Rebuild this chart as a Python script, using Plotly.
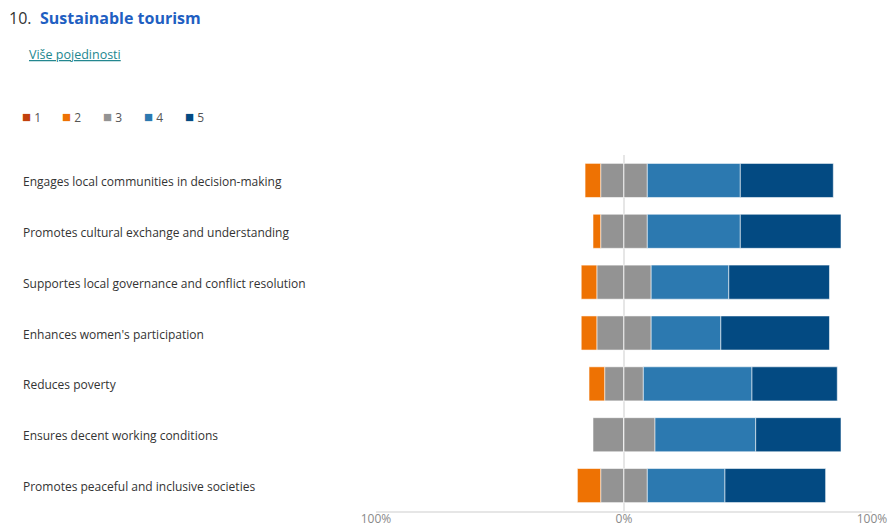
import plotly.graph_objects as go

categories = [
    "Engages local communities in decision-making",
    "Promotes cultural exchange and understanding",
    "Supportes local governance and conflict resolution",
    "Enhances women's participation",
    "Reduces poverty",
    "Ensures decent working conditions",
    "Promotes peaceful and inclusive societies",
]
pct1 = [0, 0, 0, 0, 0, 0, 0]
pct2 = [6.3, 3.1, 6.3, 6.3, 6.3, 0, 9.4]
pct3 = [18.8, 18.8, 21.9, 21.9, 15.6, 25.0, 18.8]
pct4 = [37.5, 37.5, 31.3, 28.1, 43.8, 40.6, 31.3]
pct5 = [37.5, 40.6, 40.6, 43.8, 34.4, 34.4, 40.6]

legend_names = ["1", "2", "3", "4", "5"]
colors = ["#c2410c", "#ee7203", "#939393", "#2c79b0", "#034a82"]
tick_vals = [-100, 0, 100]
tick_text = ["100%", "0%", "100%"]

FONT = "Open Sans, Noto Sans, sans-serif"
W, H = 888, 527
L, R, T, B = 376, 16, 155, 16
pw, ph = W - L - R, H - T - B


def px(x):
    return (x - L) / pw


def py(y):
    return (H - B - y) / ph


line = dict(color="rgba(255,255,255,0.55)", width=1)
fig = go.Figure()
# negative side: half of 3 nearest zero, then 2, then 1
fig.add_trace(go.Bar(y=categories, x=[-v / 2 for v in pct3], orientation="h",
                     marker=dict(color=colors[2], line=line), name="3", showlegend=False))
fig.add_trace(go.Bar(y=categories, x=[-v for v in pct2], orientation="h",
                     marker=dict(color=colors[1], line=line), name="2", showlegend=False))
fig.add_trace(go.Bar(y=categories, x=[-v for v in pct1], orientation="h",
                     marker=dict(color=colors[0], line=line), name="1", showlegend=False))
# positive side
fig.add_trace(go.Bar(y=categories, x=[v / 2 for v in pct3], orientation="h",
                     marker=dict(color=colors[2], line=line), name="3", showlegend=False))
fig.add_trace(go.Bar(y=categories, x=pct4, orientation="h",
                     marker=dict(color=colors[3], line=line), name="4", showlegend=False))
fig.add_trace(go.Bar(y=categories, x=pct5, orientation="h",
                     marker=dict(color=colors[4], line=line), name="5", showlegend=False))

annotations = []
# category labels, left aligned
for c in categories:
    annotations.append(dict(x=px(21), xref="paper", y=c, yref="y", text=c, showarrow=False,
                            xanchor="left", yanchor="middle", yshift=-1,
                            font=dict(family=FONT, size=12, color="#333333")))
# title
annotations.append(dict(x=px(7), xref="paper", y=py(18), yref="paper", text="10.",
                        showarrow=False, xanchor="left", yanchor="middle",
                        font=dict(family=FONT, size=16, color="#333333")))
annotations.append(dict(x=px(38), xref="paper", y=py(18), yref="paper", text="<b>Sustainable tourism</b>",
                        showarrow=False, xanchor="left", yanchor="middle",
                        font=dict(family=FONT, size=16, color="#1f5fc2")))
annotations.append(dict(x=px(27), xref="paper", y=py(54.5), yref="paper", text="<u>Više pojedinosti</u>",
                        showarrow=False, xanchor="left", yanchor="middle",
                        font=dict(family=FONT, size=12.5, color="#23878f")))
# legend
legend_x = [20, 60, 101, 142, 183]
for name, col, lx in zip(legend_names, colors, legend_x):
    annotations.append(dict(x=px(lx), xref="paper", y=py(116.5), yref="paper",
                            text=f'<span style="color:{col};font-size:15px">■</span> {name}',
                            showarrow=False, xanchor="left", yanchor="middle",
                            font=dict(family=FONT, size=12, color="#555555")))

fig.update_layout(
    autosize=True,
    margin=dict(l=L, r=R, t=T, b=B, autoexpand=False),
    barmode="relative",
    bargap=0.33,
    plot_bgcolor="white",
    paper_bgcolor="white",
    showlegend=False,
    annotations=annotations,
    font=dict(family=FONT, size=12, color="#888888"),
)
fig.update_xaxes(range=[-100, 100], tickvals=tick_vals, ticktext=tick_text,
                 showgrid=True, gridcolor="#e6e6e6", gridwidth=1.5, zeroline=False,
                 showline=True, linecolor="#e6e6e6", linewidth=1.5, layer="above traces",
                 automargin=False, ticklabelstandoff=-4,
                 tickfont=dict(family=FONT, size=12, color="#8a8a8a"), fixedrange=True)
fig.update_yaxes(categoryorder="array", categoryarray=categories, autorange="reversed",
                 automargin=False,
                 showticklabels=False, showgrid=False, zeroline=False, fixedrange=True)

fig.write_html("out.html", config={"displayModeBar": False},
               default_width=f"{W}px",
               default_height=f"{H}px; position:absolute; top:0; left:0")
